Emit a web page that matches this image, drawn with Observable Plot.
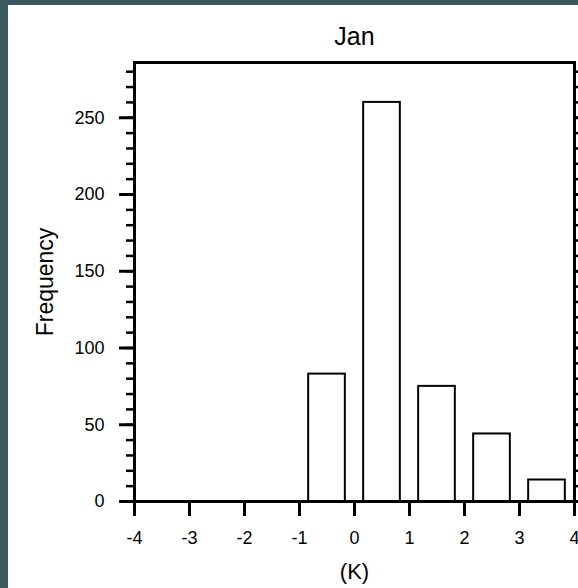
<!DOCTYPE html>
<html>
<head>
<meta charset="utf-8">
<script src="https://cdn.jsdelivr.net/npm/d3@7"></script>
<script src="https://cdn.jsdelivr.net/npm/@observablehq/plot@0.6"></script>
<style>
  html, body { margin: 0; padding: 0; background: #385a5e; width: 578px; height: 588px; overflow: hidden; }
  #panel { position: absolute; left: 8px; top: 5px; width: 570px; height: 583px; background: white; overflow: hidden; }
  #panel svg g[aria-label="y-axis tick label"],
  #panel svg g[aria-label="x-axis tick label"] { font-size: 18px; }
</style>
</head>
<body>
<div id="panel"></div>
<script>
// Data (bins of width 1 K, centred at the bin midpoints)
const binCenters = [-0.5, 0.5, 1.5, 2.5, 3.5];
const counts = [83, 260, 75, 44, 14];
const xTicks = [-4, -3, -2, -1, 0, 1, 2, 3, 4];
const yMajorTicks = [0, 50, 100, 150, 200, 250];
const yMinorTicks = d3.range(0, 290, 10);
const title = "Jan";
const xLabel = "(K)";
const yLabel = "Frequency";

const binWidth = 1;
const barFraction = 2 / 3;
const data = binCenters.map((c, i) => ({
  x1: c - binWidth * barFraction / 2,
  x2: c + binWidth * barFraction / 2,
  count: counts[i]
}));

const font = "'Liberation Sans', Arial, Helvetica, sans-serif";

const chart = Plot.plot({
  width: 570,
  height: 583,
  marginLeft: 126,
  marginRight: 4,
  marginTop: 57,
  marginBottom: 87,
  style: { fontFamily: font, background: "white", color: "black" },
  x: { domain: [-4, 4] },
  y: { domain: [0, 286] },
  marks: [
    Plot.rectY(data, { x1: "x1", x2: "x2", y: "count", fill: "white", stroke: "black", strokeWidth: 2 }),
    // y ticks (left and right, mirrored)
    Plot.axisY(yMinorTicks, { anchor: "left", tickSize: 8, strokeWidth: 2.5, fill: null, label: null }),
    Plot.axisY(yMinorTicks, { anchor: "right", tickSize: 8, strokeWidth: 2.5, fill: null, label: null }),
    Plot.axisY(yMajorTicks, { anchor: "right", tickSize: 15, strokeWidth: 3, fill: null, label: null }),
    Plot.axisY(yMajorTicks, { anchor: "left", tickSize: 15, tickPadding: 15, strokeWidth: 3, fontSize: 18, tickFormat: d => String(d), label: null }),
    // x ticks
    Plot.axisX(xTicks, { anchor: "bottom", tickSize: 15, tickPadding: 15, strokeWidth: 3, fontSize: 18, tickFormat: d => String(d), label: null }),
    // labels
    Plot.text([title], { frameAnchor: "top", textAnchor: "middle", lineAnchor: "bottom", dy: -18, fontSize: 25 }),
    Plot.text([xLabel], { frameAnchor: "bottom", textAnchor: "middle", lineAnchor: "bottom", dy: 77, fontSize: 22 }),
    Plot.text([yLabel], { frameAnchor: "left", textAnchor: "middle", lineAnchor: "middle", rotate: -90, dx: -89, fontSize: 23 }),
    Plot.frame({ stroke: "black", strokeWidth: 3 })
  ]
});
document.getElementById("panel").appendChild(chart);
</script>
</body>
</html>
